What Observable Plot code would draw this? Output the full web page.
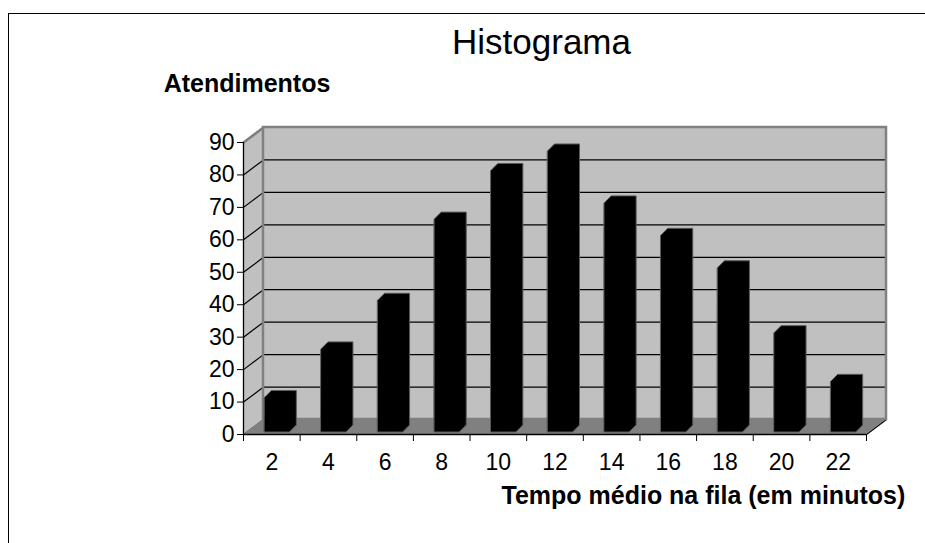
<!DOCTYPE html>
<html><head><meta charset="utf-8">
<script src="https://cdn.jsdelivr.net/npm/d3@7"></script>
<script src="https://cdn.jsdelivr.net/npm/@observablehq/plot@0.6"></script>
<style>html,body{margin:0;padding:0;background:#fff;overflow:hidden}</style>
</head><body><div id="chart"></div>
<script>
const categories = [2, 4, 6, 8, 10, 12, 14, 16, 18, 20, 22];
const values = [10, 25, 40, 65, 80, 86, 70, 60, 50, 30, 15];
const yTicks = [0, 10, 20, 30, 40, 50, 60, 70, 80, 90];
const titleText = "Histograma";
const yTitle = "Atendimentos";
const xTitle = "Tempo médio na fila (em minutos)";

const W = 925, H = 543, mL = 243, mR = 59, mT = 142, mB = 109;
const FONT = "'Liberation Sans', Arial, sans-serif";
const xMin = categories[0] - 1, xMax = categories[categories.length - 1] + 1;
const yMax = yTicks[yTicks.length - 1];
const pxX = (W - mL - mR) / (xMax - xMin), pxY = (H - mT - mB) / yMax;
const WALL_DX = 20, WALL_DY = 15;
const wx = WALL_DX / pxX, wy = WALL_DY / pxY;
const barL = 7 / pxX, barR = 18 / pxX, bx = 7 / pxX, by = 7 / pxY, sink = 2 / pxY;
const boundaries = d3.range(xMin, xMax + 1, 2);

const barPts = categories.flatMap((c, i) => {
  const v = values[i], x1 = c - barL, x2 = c + barR;
  return [
    {c, x: x1, y1: -sink, y2: v},
    {c, x: x1 + bx, y1: -sink, y2: v + by},
    {c, x: x2, y1: -sink, y2: v + by},
    {c, x: x2 + bx, y1: -sink + by, y2: v + by}
  ];
});

const chart = Plot.plot({
  width: W, height: H,
  marginLeft: mL, marginRight: mR, marginTop: mT, marginBottom: mB,
  style: {fontFamily: FONT, fontSize: "23px", background: "white", color: "black"},
  x: {domain: [xMin, xMax], label: null},
  y: {domain: [0, yMax], label: null},
  marks: [
    Plot.rect([0], {x1: () => xMin, x2: () => xMax, y1: () => 0, y2: () => yMax, dx: WALL_DX, dy: -WALL_DY, fill: "#c0c0c0"}),
    Plot.areaY([{x: xMin, y1: 0, y2: yMax}, {x: xMin + wx, y1: wy, y2: yMax + wy}], {x: "x", y1: "y1", y2: "y2", fill: "#c0c0c0"}),
    Plot.ruleY(yTicks.filter(t => t > 0), {y: d => d, x1: () => xMin, x2: () => xMax, dx: WALL_DX, dy: -WALL_DY, stroke: "#000", strokeWidth: 1.2}),
    Plot.link(yTicks, {x1: () => xMin, y1: d => d, x2: () => xMin + wx, y2: d => d + wy, stroke: "#000", strokeWidth: 1.2}),
    Plot.areaX([{y: 0, x1: xMin, x2: xMax}, {y: wy, x1: xMin + wx, x2: xMax + wx}], {y: "y", x1: "x1", x2: "x2", fill: "#808080"}),
    Plot.link([0], {x1: () => xMax, y1: () => 0, x2: () => xMax + wx, y2: () => wy, stroke: "#000", strokeWidth: 1.2}),
    Plot.rect([0], {x1: () => xMin, x2: () => xMax, y1: () => 0, y2: () => yMax, dx: WALL_DX, dy: -WALL_DY, fill: "none", stroke: "#808080", strokeWidth: 2.5}),
    Plot.link([0], {x1: () => xMin, y1: () => yMax, x2: () => xMin + wx, y2: () => yMax + wy, stroke: "#808080", strokeWidth: 2.5}),
    Plot.areaY(barPts, {x: "x", y1: "y1", y2: "y2", z: "c", dy: -4, fill: "#000", stroke: "#5a5a5a", strokeWidth: 1}),
    Plot.ruleX([xMin], {y1: () => 0, y2: () => yMax, stroke: "#000", strokeWidth: 1.3}),
    Plot.ruleY([0], {x1: () => xMin, x2: () => xMax, stroke: "#000", strokeWidth: 1.3}),
    Plot.axisY(yTicks, {tickSize: 6, tickPadding: 3, fontSize: 23, stroke: "#000", fill: "#000"}),
    Plot.axisX(boundaries, {tickSize: 7, tickFormat: () => "", stroke: "#000"}),
    Plot.axisX(categories, {tickSize: 0, tickPadding: 19, fontSize: 23, fill: "#000"}),
    Plot.text([titleText], {text: d => d, frameAnchor: "top-left", dx: 298, dy: -89, lineAnchor: "bottom", textAnchor: "middle", fontSize: 35, fill: "#000"}),
    Plot.text([yTitle], {text: d => d, frameAnchor: "top-left", dx: 3.5, dy: -51, lineAnchor: "bottom", textAnchor: "middle", fontSize: 25, fontWeight: "bold", fill: "#000"}),
    Plot.text([xTitle], {text: d => d, frameAnchor: "bottom-left", dx: 258, dy: 69, lineAnchor: "bottom", textAnchor: "start", fontSize: 25, fontWeight: "bold", fill: "#000"})
  ]
});
const svg = d3.select(chart);
svg.insert("rect", ":first-child").attr("x", 8.5).attr("y", 13.5).attr("width", W).attr("height", H).attr("fill", "none").attr("stroke", "#000").attr("stroke-width", 1);
document.getElementById("chart").appendChild(chart);
</script>
</body></html>
